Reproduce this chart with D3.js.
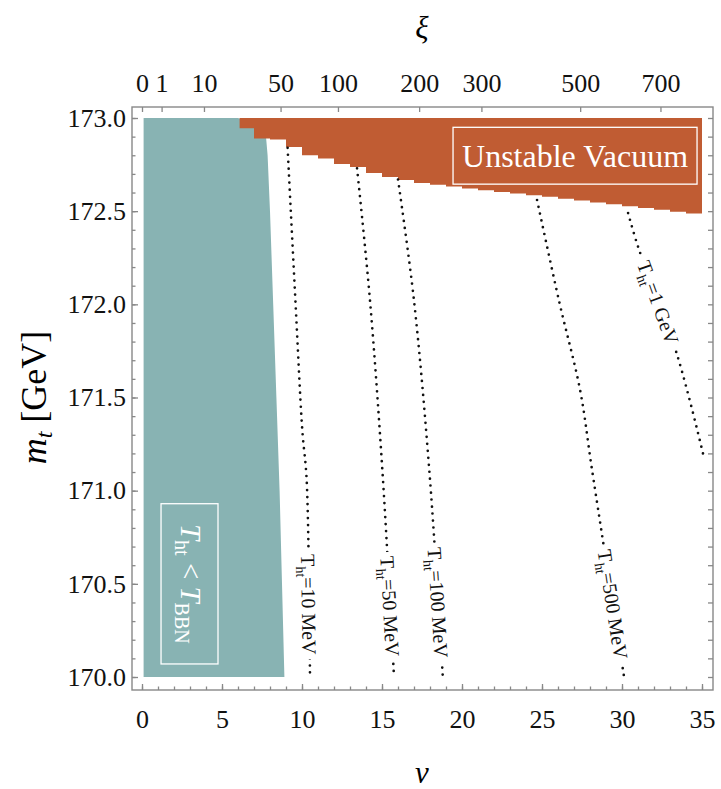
<!DOCTYPE html>
<html>
<head>
<meta charset="utf-8">
<script src="https://cdn.jsdelivr.net/npm/d3@7"></script>
<style>
  body { margin: 0; background: #fff; }
</style>
</head>
<body>
<script>

// ---- data ----
// region where the reheating temperature is below T_BBN (left boundary nu ~ 0)
var bbnNu = [0.1, 6.0, 7.0, 7.6, 7.75, 7.85, 8.0, 8.2, 8.4, 8.6, 8.75, 8.9, 0.1];
var bbnMt = [173.0, 173.0, 172.97, 172.94, 172.9, 172.8, 172.5, 172.0, 171.5, 171.0, 170.5, 170.0, 170.0];

// lower edge of the unstable vacuum region (step after each nu)
var vacNu = [6.1, 7, 8, 9, 10, 11, 12, 13, 14, 15, 16, 17, 18, 19, 20, 21, 22, 23, 24, 25,
             26, 27, 28, 29, 30, 31, 32, 33, 34, 35];
var vacMt = [172.945, 172.89, 172.885, 172.845, 172.80, 172.783, 172.753, 172.737, 172.705, 172.683,
             172.667, 172.651, 172.642, 172.632, 172.622, 172.612, 172.603, 172.595, 172.586, 172.577,
             172.567, 172.557, 172.547, 172.537, 172.527, 172.517, 172.507, 172.497, 172.487, 172.48];

// contours of constant T_ht
var tht10Nu = [9.1, 9.3, 9.6, 9.94, 10.05, 10.29, 10.5];
var tht10Mt = [172.84, 172.5, 172.0, 171.43, 171.29, 171.06, 170.0];
var tht50Nu = [13.44, 14.25, 15.06, 15.75];
var tht50Mt = [172.73, 172.02, 171.06, 170.0];
var tht100Nu = [16.0, 17.0, 18.0, 18.8];
var tht100Mt = [172.67, 172.02, 171.06, 170.0];
var tht500Nu = [24.69, 26.06, 27.38, 28.13, 30.13];
var tht500Mt = [172.56, 172.02, 171.54, 171.11, 170.0];
var tht1000Nu = [30.38, 31.0, 33.44, 35.06];
var tht1000Mt = [172.49, 172.31, 171.73, 171.20];

var contourLabels = ["10 MeV", "50 MeV", "100 MeV", "500 MeV", "1 GeV"];
var contourLabelMt = [170.39, 170.38, 170.40, 170.39, 172.01];

// axis ticks
var nuTicks = [0, 5, 10, 15, 20, 25, 30, 35];
var mtTicks = [170.0, 170.5, 171.0, 171.5, 172.0, 172.5, 173.0];
var xiTicks = [0, 1, 10, 50, 100, 200, 300, 500, 700];

// ---- layout ----
var W = 721, H = 789;
var frame = { left: 132, right: 713, top: 107, bottom: 690 };
var serif = "'Liberation Serif', serif";

var svg = d3.select("body")
    .append("svg")
    .attr("width", W)
    .attr("height", H)
    .style("font-family", serif);

var x = d3.scaleLinear().domain([0, 35]).range([142, 702]);
var y = d3.scaleLinear().domain([170, 173]).range([677, 118]);
// top axis: xi relates to nu as nu^2 = 1.5 xi
var xi = d3.scalePow().exponent(0.5).domain([0, 700]).range([x(0), x(Math.sqrt(1.5 * 700))]);

var pairs = function (a, b) { return a.map(function (v, i) { return [v, b[i]]; }); };

// teal region
svg.append("path")
    .attr("d", d3.line().x(function (d) { return x(d[0]); }).y(function (d) { return y(d[1]); })(pairs(bbnNu, bbnMt)) + "Z")
    .attr("fill", "#88b3b3");

// unstable vacuum
var vacArea = d3.area()
    .curve(d3.curveStepAfter)
    .x(function (d) { return x(d[0]); })
    .y0(y(173))
    .y1(function (d) { return y(d[1]); });

svg.append("path")
    .attr("d", vacArea(pairs(vacNu, vacMt)))
    .attr("fill", "#c05c33");

// contour lines
var contours = [
    pairs(tht10Nu, tht10Mt),
    pairs(tht50Nu, tht50Mt),
    pairs(tht100Nu, tht100Mt),
    pairs(tht500Nu, tht500Mt),
    pairs(tht1000Nu, tht1000Mt)
];

var contourLine = d3.line()
    .curve(d3.curveCatmullRom)
    .x(function (d) { return x(d[0]); })
    .y(function (d) { return y(d[1]); });

svg.append("g").selectAll("path")
    .data(contours)
    .enter().append("path")
    .attr("d", contourLine)
    .attr("fill", "none")
    .attr("stroke", "#111")
    .attr("stroke-width", 2.7)
    .attr("stroke-linecap", "round")
    .attr("stroke-dasharray", "0 7");

// inline labels on the contours
contours.forEach(function (pts, k) {
    var m = contourLabelMt[k], i = 0;
    while (i < pts.length - 2 && !(m <= pts[i][1] && m >= pts[i + 1][1])) i++;
    var x1 = x(pts[i][0]), y1 = y(pts[i][1]), x2 = x(pts[i + 1][0]), y2 = y(pts[i + 1][1]);
    var t = (y(m) - y1) / (y2 - y1);
    var px = x1 + t * (x2 - x1), py = y(m);
    var ang = Math.atan2(y2 - y1, x2 - x1) * 180 / Math.PI;

    var g = svg.append("g").attr("transform", "translate(" + px + "," + py + ") rotate(" + ang + ")");
    var txt = g.append("text")
        .attr("text-anchor", "middle")
        .attr("dy", "0.35em")
        .attr("font-size", 20)
        .attr("fill", "#111");
    txt.append("tspan").text("T");
    txt.append("tspan").attr("font-size", 14).attr("dy", 5).text("ht");
    txt.append("tspan").attr("dy", -5).text("=" + contourLabels[k]);
    var bb = txt.node().getBBox();
    g.insert("rect", "text")
        .attr("x", bb.x - 4).attr("y", bb.y - 1)
        .attr("width", bb.width + 8).attr("height", bb.height + 2)
        .attr("fill", "#fff");
});

// legend boxes
svg.append("rect")
    .attr("x", x(19.44)).attr("y", y(172.95))
    .attr("width", x(34.69) - x(19.44)).attr("height", y(172.645) - y(172.95))
    .attr("fill", "none").attr("stroke", "#fff").attr("stroke-width", 1.3);
svg.append("text")
    .attr("x", (x(19.44) + x(34.69)) / 2).attr("y", y(172.7975))
    .attr("dy", "0.35em")
    .attr("text-anchor", "middle")
    .attr("font-size", 32)
    .attr("fill", "#fff")
    .text("Unstable Vacuum");

svg.append("rect")
    .attr("x", x(1.19)).attr("y", y(170.93))
    .attr("width", x(4.75) - x(1.19)).attr("height", y(170.07) - y(170.93))
    .attr("fill", "none").attr("stroke", "#fff").attr("stroke-width", 1.3);
var bbnText = svg.append("text")
    .attr("transform", "translate(" + ((x(1.19) + x(4.75)) / 2) + "," + y(170.5) + ") rotate(90)")
    .attr("text-anchor", "middle")
    .attr("dy", "0.3em")
    .attr("font-size", 29)
    .attr("fill", "#fff");
bbnText.append("tspan").attr("font-style", "italic").text("T");
bbnText.append("tspan").attr("font-size", 20).attr("dy", 6).text("ht");
bbnText.append("tspan").attr("dy", -6).text(" < ");
bbnText.append("tspan").attr("font-style", "italic").text("T");
bbnText.append("tspan").attr("font-size", 20).attr("dy", 6).text("BBN");

// ---- axes (ticks point inward) ----
function styleAxis(g, size) {
    g.select(".domain").remove();
    g.selectAll("line").attr("stroke", "#888").attr("stroke-width", 1.3);
    g.attr("font-size", size).style("font-family", serif);
    g.selectAll("text").attr("fill", "#111").style("font-family", serif);
}

var minorMt = d3.range(0, 31).map(function (i) { return 170 + i / 10; });

var gx = svg.append("g")
    .attr("transform", "translate(0," + frame.bottom + ")")
    .call(d3.axisBottom(x).tickValues(d3.range(0, 36, 1)).tickSize(-3.5).tickFormat(""));
styleAxis(gx, 26);
var gx2 = svg.append("g")
    .attr("transform", "translate(0," + frame.bottom + ")")
    .call(d3.axisBottom(x).tickValues(nuTicks).tickSize(-6).tickPadding(20));
styleAxis(gx2, 26);

var gy = svg.append("g")
    .attr("transform", "translate(" + frame.left + ",0)")
    .call(d3.axisLeft(y).tickValues(minorMt).tickSize(-3.5).tickFormat(""));
styleAxis(gy, 26);
var gy2 = svg.append("g")
    .attr("transform", "translate(" + frame.left + ",0)")
    .call(d3.axisLeft(y).tickValues(mtTicks).tickSize(-6).tickPadding(6).tickFormat(d3.format(".1f")));
styleAxis(gy2, 26);

var gr = svg.append("g")
    .attr("transform", "translate(" + frame.right + ",0)")
    .call(d3.axisRight(y).tickValues(minorMt).tickSize(-5).tickFormat(""));
styleAxis(gr, 26);

var gt = svg.append("g")
    .attr("transform", "translate(0," + frame.top + ")")
    .call(d3.axisTop(xi).tickValues(xiTicks).tickSize(-5).tickPadding(15).tickFormat(d3.format("d")));
styleAxis(gt, 26);

// frame
svg.append("rect")
    .attr("x", frame.left).attr("y", frame.top)
    .attr("width", frame.right - frame.left).attr("height", frame.bottom - frame.top)
    .attr("fill", "none").attr("stroke", "#888").attr("stroke-width", 1.4);

// axis titles
svg.append("text")
    .attr("x", (x(0) + x(35)) / 2).attr("y", 783)
    .attr("text-anchor", "middle")
    .attr("font-size", 31).attr("font-style", "italic")
    .text("ν");
svg.append("text")
    .attr("x", (x(0) + x(35)) / 2).attr("y", 38)
    .attr("text-anchor", "middle")
    .attr("font-size", 31).attr("font-style", "italic")
    .text("ξ");

var yt = svg.append("text")
    .attr("transform", "translate(46," + ((y(170) + y(173)) / 2) + ") rotate(-90)")
    .attr("text-anchor", "middle")
    .attr("font-size", 36);
yt.append("tspan").attr("font-style", "italic").text("m");
yt.append("tspan").attr("font-style", "italic").attr("font-size", 24).attr("dy", 6).text("t");
yt.append("tspan").attr("dy", -6).text(" [GeV]");

</script>
</body>
</html>
